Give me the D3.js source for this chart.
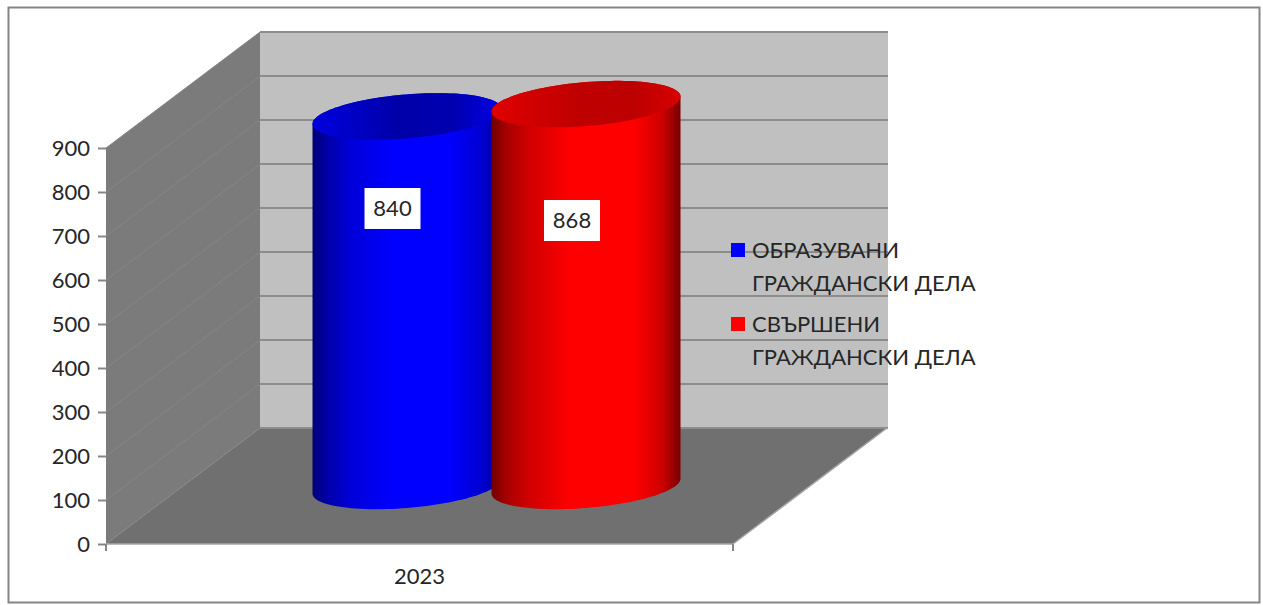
<!DOCTYPE html>
<html>
<head>
<meta charset="utf-8">
<style>
  html, body { margin: 0; padding: 0; background: #fff; }
  svg { display: block; }
  text { font-family: Lato, "Open Sans", sans-serif; fill: #262626; }
</style>
</head>
<body>
<svg></svg>
<script src="https://cdn.jsdelivr.net/npm/d3@7"></script>
<script>
// chart values
const years = ["2023"];
const seriesNames = ["ОБРАЗУВАНИ ГРАЖДАНСКИ ДЕЛА", "СВЪРШЕНИ ГРАЖДАНСКИ ДЕЛА"];
const seriesValues = [840, 868];
const valueTicks = [0, 100, 200, 300, 400, 500, 600, 700, 800, 900];

const svg = d3.select("svg").attr("width", 1263).attr("height", 605);

// front plane of the 3d box + how far the back wall is pushed
const plot = { left: 106, right: 733, bottom: 544, top: 148 };
const depth = { x: 154, y: -116 };

const x = d3.scaleBand().domain(years).range([plot.left, plot.right]);
const y = d3.scaleLinear().domain([0, 900]).range([plot.bottom, plot.top]);
const seriesOffset = d3.scalePoint().domain(seriesNames).range([-89.5, 89.5]);

const defs = svg.append("defs");
function addGradient(id, stops) {
  const g = defs.append("linearGradient").attr("id", id);
  stops.forEach((s) => g.append("stop").attr("offset", s[0]).attr("stop-color", s[1]));
}
addGradient("side0", [[0, "#000078"], [0.08, "#0000a8"], [0.2, "#0000d8"], [0.42, "#0000ff"], [0.72, "#0000ff"], [0.9, "#0000d0"], [1, "#000090"]]);
addGradient("side1", [[0, "#700000"], [0.08, "#a80000"], [0.2, "#d00000"], [0.42, "#ff0000"], [0.75, "#ff0000"], [0.9, "#d00000"], [1, "#780000"]]);
addGradient("top0", [[0, "#0000e0"], [0.45, "#0000a8"], [0.75, "#0000b0"], [1, "#0000e8"]]);
addGradient("top1", [[0, "#e00000"], [0.45, "#c00000"], [0.75, "#bc0000"], [1, "#d80000"]]);

// frame
svg.append("rect")
  .attr("x", 8.5).attr("y", 7.5)
  .attr("width", 1251).attr("height", 595)
  .attr("fill", "#fff").attr("stroke", "#868686").attr("stroke-width", 2);

// box walls
const poly = (pts) => "M" + pts.map((p) => p.join(",")).join("L") + "Z";
const y0 = y(0), y9 = y(900);
svg.append("path")
  .attr("d", poly([[plot.left + depth.x, y9 + depth.y], [plot.right + depth.x + 1, y9 + depth.y], [plot.right + depth.x + 1, y0 + depth.y], [plot.left + depth.x, y0 + depth.y]]))
  .attr("fill", "#c0c0c0");
svg.append("path")
  .attr("d", poly([[plot.left, y9], [plot.left + depth.x, y9 + depth.y], [plot.left + depth.x, y0 + depth.y], [plot.left, y0]]))
  .attr("fill", "#7b7b7b");
svg.append("path")
  .attr("d", poly([[plot.left, y0], [plot.right, y0], [plot.right + depth.x, y0 + depth.y], [plot.left + depth.x, y0 + depth.y]]))
  .attr("fill", "#707070");

// gridlines, back wall and side wall
svg.append("g").selectAll("line").data(valueTicks).join("line")
  .attr("x1", plot.left + depth.x).attr("x2", plot.right + depth.x + 1)
  .attr("y1", (d) => y(d) + depth.y).attr("y2", (d) => y(d) + depth.y)
  .attr("stroke", "#8c8c8c").attr("stroke-width", 2);
svg.append("g").selectAll("line").data(valueTicks).join("line")
  .attr("x1", plot.left).attr("x2", plot.left + depth.x)
  .attr("y1", (d) => y(d)).attr("y2", (d) => y(d) + depth.y)
  .attr("stroke", "#868686").attr("stroke-width", 1);
// front edge of the floor
svg.append("line")
  .attr("x1", plot.left).attr("x2", plot.right)
  .attr("y1", y0).attr("y2", y0)
  .attr("stroke", "#a6a6a6").attr("stroke-width", 1.5);
svg.append("line")
  .attr("x1", plot.right).attr("x2", plot.right + depth.x)
  .attr("y1", y0).attr("y2", y0 + depth.y)
  .attr("stroke", "#a6a6a6").attr("stroke-width", 1.5);

// axes
const yAxis = d3.axisLeft(y).tickValues(valueTicks).tickSize(8).tickPadding(8);
const yAxisGroup = svg.append("g").attr("transform", `translate(${plot.left},0)`).call(yAxis);
yAxisGroup.select(".domain").remove();
yAxisGroup.selectAll("line").attr("stroke", "#868686").attr("stroke-width", 2);
yAxisGroup.selectAll("text").attr("font-size", 22).attr("font-family", null);

const xAxis = d3.axisBottom(x).tickSize(0).tickPadding(24);
const xAxisGroup = svg.append("g").attr("transform", `translate(0,${plot.bottom})`).call(xAxis);
xAxisGroup.select(".domain").remove();
xAxisGroup.selectAll("text").attr("font-size", 22).attr("font-family", null);
svg.append("g").selectAll("line").data(x.range()).join("line")
  .attr("x1", (d) => d).attr("x2", (d) => d)
  .attr("y1", plot.bottom).attr("y2", plot.bottom + 7)
  .attr("stroke", "#868686").attr("stroke-width", 2);

// cylinders: tilted ellipse (a, b, shear) stood at mid depth of the floor
const rx = 94.5, ry = 22, shear = -7.5;
const ellipsePoint = (cx, cy, t) => [cx + rx * Math.cos(t), cy + ry * Math.sin(t) + shear * Math.cos(t)];
const line = d3.line();

seriesNames.forEach((name, i) => {
  const cx = x(years[0]) + x.bandwidth() / 2 + seriesOffset(name) + depth.x / 2;
  const cyBase = y(0) + depth.y / 2;
  const cyTop = y(seriesValues[i]) + depth.y / 2;
  const g = svg.append("g");

  const lower = d3.range(0, 181, 3).map((deg) => ellipsePoint(cx, cyBase, (deg * Math.PI) / 180));
  const upper = d3.range(180, 361, 3).map((deg) => ellipsePoint(cx, cyTop, (deg * Math.PI) / 180));
  g.append("path")
    .attr("d", line(lower.concat(upper)) + "Z")
    .attr("fill", `url(#side${i})`);

  const rim = d3.range(0, 360, 3).map((deg) => ellipsePoint(cx, cyTop, (deg * Math.PI) / 180));
  g.append("path")
    .attr("d", line(rim) + "Z")
    .attr("fill", `url(#top${i})`);
});

// data labels, hand placed on the columns in the original
const labelSpots = [{ cx: 392.5, cy: 208.5 }, { cx: 572, cy: 220.5 }];
const labelBox = { w: 56, h: 41 };
const labels = svg.append("g").selectAll("g").data(seriesValues).join("g")
  .attr("transform", (d, i) => `translate(${labelSpots[i].cx},${labelSpots[i].cy})`);
labels.append("rect")
  .attr("x", -labelBox.w / 2).attr("y", -labelBox.h / 2)
  .attr("width", labelBox.w).attr("height", labelBox.h)
  .attr("fill", "#fff");
labels.append("text")
  .attr("text-anchor", "middle").attr("dy", "0.35em")
  .attr("font-size", 22)
  .text((d) => d);

// legend
const legend = svg.append("g").selectAll("g").data(seriesNames).join("g")
  .attr("transform", (d, i) => `translate(731,${243 + i * 74})`);
legend.append("rect")
  .attr("width", 14).attr("height", 14)
  .attr("fill", (d, i) => (i === 0 ? "#0000ff" : "#ff0000"));
legend.each(function (d) {
  const words = d.split(" ");
  const lines = [words[0], words.slice(1).join(" ")];
  d3.select(this).selectAll("text").data(lines).join("text")
    .attr("x", 21)
    .attr("y", (l, k) => 15 + k * 33)
    .attr("font-size", 22)
    .text((l) => l);
});
</script>
</body>
</html>
